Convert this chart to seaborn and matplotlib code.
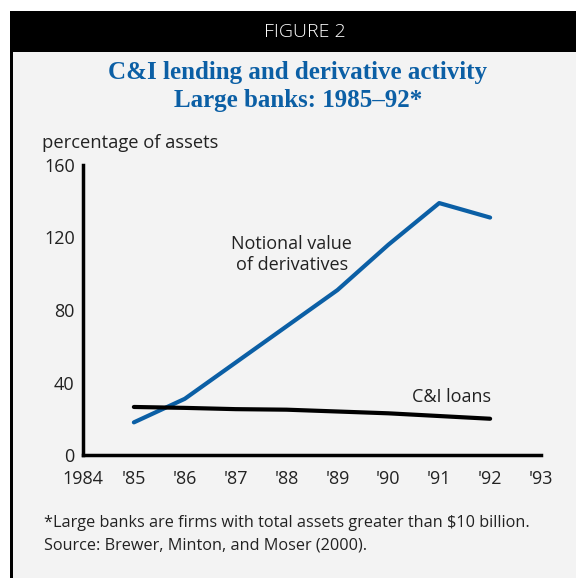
import matplotlib
matplotlib.use("Agg")
import matplotlib.pyplot as plt
import seaborn as sns
import pandas as pd
from matplotlib.patches import Rectangle

# values
years = [1985, 1986, 1987, 1988, 1989, 1990, 1991, 1992]
derivatives = [18, 31, 51, 71, 91, 116, 139, 131]
ci_loans = [26.5, 26, 25.3, 25, 24, 23, 21.5, 20]
x_ticks = [1984, 1985, 1986, 1987, 1988, 1989, 1990, 1991, 1992, 1993]
x_labels = ["1984", "'85", "'86", "'87", "'88", "'89", "'90", "'91", "'92", "'93"]
y_ticks = [0, 40, 80, 120, 160]

BLUE = "#0b5fa5"
BG = "#f3f3f3"
TXT = "#222222"
FONT = ["Open Sans", "DejaVu Sans"]

sns.set_style("white")
plt.rcParams["font.family"] = FONT

df = pd.DataFrame({"year": years, "Notional value of derivatives": derivatives,
                   "C&I loans": ci_loans})

fig = plt.figure(figsize=(5.76, 5.78), dpi=100)
fig.patch.set_facecolor("white")

# grey panel, left border and black header bar (behind the axes)
fig.patches.append(Rectangle((10 / 576, 0), 1, 1 - 52 / 578, transform=fig.transFigure,
                             facecolor=BG, edgecolor="none", zorder=-3))
fig.patches.append(Rectangle((10 / 576, 0), 3 / 576, 1 - 52 / 578, transform=fig.transFigure,
                             facecolor="black", edgecolor="none", zorder=-2))
fig.patches.append(Rectangle((10 / 576, 1 - 52 / 578), 1, 41 / 578, transform=fig.transFigure,
                             facecolor="black", edgecolor="none", zorder=-2))
fig.text(305 / 576, 1 - 32 / 578, "FIGURE 2", color="white", fontsize=14,
         ha="center", va="center", fontweight="light")

fig.text(298 / 576, 1 - 72 / 578, "C&I lending and derivative activity", color=BLUE,
         fontsize=18, fontweight="bold", family="Liberation Serif", ha="center", va="center")
fig.text(298 / 576, 1 - 100 / 578, "Large banks: 1985\u201392*", color=BLUE,
         fontsize=18, fontweight="bold", family="Liberation Serif", ha="center", va="center")

ax = fig.add_axes([83 / 576, 1 - 455 / 578, (541 - 83) / 576, (455 - 165) / 578])
ax.set_facecolor(BG)

sns.lineplot(data=df, x="year", y="Notional value of derivatives", ax=ax,
             color=BLUE, linewidth=3, zorder=3)
sns.lineplot(data=df, x="year", y="C&I loans", ax=ax,
             color="black", linewidth=3, zorder=3)

ax.set_xlim(1984, 1993)
ax.set_ylim(0, 160)
ax.set_xticks(x_ticks)
ax.set_xticklabels(x_labels)
ax.set_yticks(y_ticks)
ax.set_xlabel("")
ax.set_ylabel("")
sns.despine(ax=ax)
for s in ["left", "bottom"]:
    ax.spines[s].set_linewidth(2.5)
    ax.spines[s].set_color("black")
ax.tick_params(axis="x", direction="inout", length=12, width=2.5, labelsize=13,
               pad=5, colors="black", labelcolor=TXT)
ax.tick_params(axis="y", direction="in", length=6, width=2.5, labelsize=13,
               pad=6, colors="black", labelcolor=TXT)

fig.text(42 / 576, 1 - 143 / 578, "percentage of assets", fontsize=13.2,
         color=TXT, va="center", ha="left")

ax.text(1988.1, 110.5, "Notional value\nof derivatives", fontsize=13, color=TXT,
        ha="center", va="center", linespacing=1.25)
ax.text(1991.25, 32, "C&I loans", fontsize=13, color=TXT,
        ha="center", va="center")

fig.text(44 / 576, 1 - 523 / 578,
         "*Large banks are firms with total assets greater than $10 billion.",
         fontsize=11.7, color=TXT, va="center")
fig.text(44 / 576, 1 - 546 / 578, "Source: Brewer, Minton, and Moser (2000).",
         fontsize=11.7, color=TXT, va="center")

fig.savefig("out.png", dpi=100, facecolor=fig.get_facecolor())
